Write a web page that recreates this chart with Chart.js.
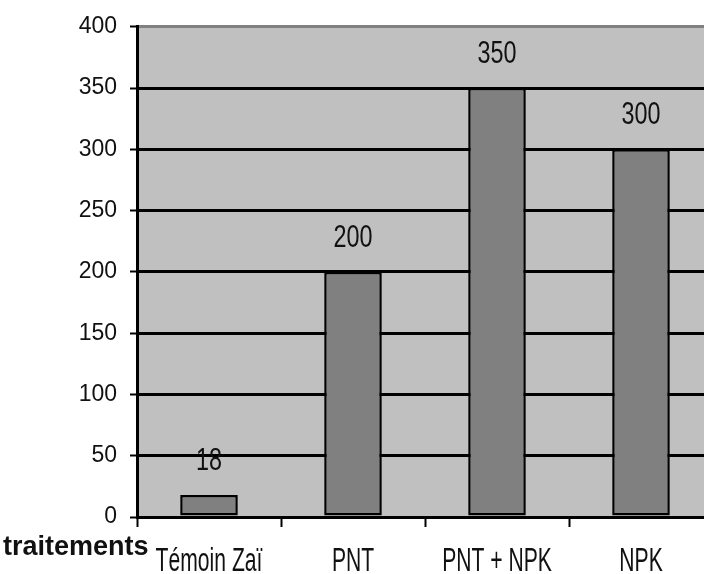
<!DOCTYPE html>
<html>
<head>
<meta charset="utf-8">
<script src="https://cdn.jsdelivr.net/npm/chart.js@4"></script>
<style>
  html, body { margin: 0; padding: 0; background: #fff; overflow: hidden; }
  #wrap { width: 704px; height: 574px; overflow: hidden; }
</style>
</head>
<body>
<div id="wrap"><canvas id="chart" width="720" height="574"></canvas></div>
<script>
const categories = ["Témoin Zaï", "PNT", "PNT + NPK", "NPK"];
const values = [18, 200, 350, 300];
const yTicks = [0, 50, 100, 150, 200, 250, 300, 350, 400];
const axisTitle = "traitements";

const FONT = "'Liberation Sans', Arial, sans-serif";

// draw text squeezed horizontally (the original uses a narrow face)
function narrowText(ctx, text, x, y, sx) {
  ctx.save();
  ctx.translate(x, y);
  ctx.scale(sx, 1);
  ctx.fillText(text, 0, 0);
  ctx.restore();
}

// grey plot area like the spreadsheet chart
const plotBackground = {
  id: "plotBackground",
  beforeDraw(chart) {
    const { ctx, chartArea: a } = chart;
    ctx.save();
    ctx.fillStyle = "#c0c0c0";
    ctx.fillRect(a.left, a.top, a.right - a.left, a.bottom - a.top);
    ctx.restore();
  },
};

// value above each bar, category names under the axis, axis name on the left
const textLayer = {
  id: "textLayer",
  afterDraw(chart) {
    const ctx = chart.ctx;
    const meta = chart.getDatasetMeta(0);
    const x = chart.scales.x;
    ctx.save();
    ctx.fillStyle = "#111";
    ctx.textAlign = "center";
    ctx.textBaseline = "alphabetic";

    ctx.font = "32px " + FONT;
    meta.data.forEach((bar, i) => {
      narrowText(ctx, String(values[i]), bar.x, bar.y - 25, 0.73);
    });

    ctx.font = "33px " + FONT;
    categories.forEach((c, i) => {
      narrowText(ctx, c, x.getPixelForTick(i), x.bottom - 3, 0.64);
    });

    ctx.font = "bold 27px " + FONT;
    ctx.textAlign = "left";
    ctx.fillText(axisTitle, 3, 555);
    ctx.restore();
  },
};

new Chart(document.getElementById("chart"), {
  type: "bar",
  data: {
    labels: categories,
    datasets: [
      {
        data: values,
        backgroundColor: "#808080",
        borderColor: "#000",
        borderWidth: 2.5,
        borderSkipped: false,
        categoryPercentage: 1,
        barPercentage: 0.4,
      },
    ],
  },
  options: {
    responsive: false,
    animation: false,
    layout: { padding: { left: 0, right: 7, top: 25, bottom: 0 } },
    plugins: {
      legend: { display: false },
      tooltip: { enabled: false },
    },
    scales: {
      x: {
        offset: true,
        grid: {
          offset: true,
          drawOnChartArea: false,
          tickLength: 10,
          tickColor: "#000",
          tickWidth: 2,
        },
        border: { color: "#000", width: 3 },
        ticks: { display: false },
        afterFit(scale) {
          scale.height = 57;
        },
      },
      y: {
        min: 0,
        max: 400,
        afterBuildTicks(scale) {
          scale.ticks = yTicks.map((v) => ({ value: v }));
        },
        grid: {
          color: (c) => (c.tick && c.tick.value === 400 ? "#808080" : "#000"),
          lineWidth: 3,
          tickLength: 7,
          tickColor: "#000",
          tickWidth: 2,
        },
        border: { color: "#000", width: 3 },
        ticks: {
          color: "#111",
          font: { family: FONT, size: 23 },
          padding: 13,
        },
        afterFit(scale) {
          scale.width = 137;
        },
      },
    },
  },
  plugins: [plotBackground, textLayer],
});
</script>
</body>
</html>
